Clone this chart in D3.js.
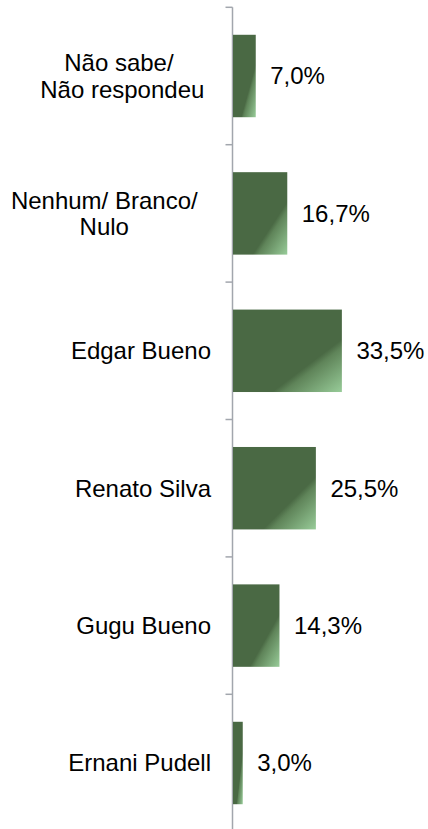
<!DOCTYPE html>
<html>
<head>
<meta charset="utf-8">
<script src="https://cdn.jsdelivr.net/npm/d3@7"></script>
<style>
  body { margin: 0; background: #fff; }
  text { font-family: "Liberation Sans", Arial, sans-serif; fill: #000; }
</style>
</head>
<body>
<svg id="chart" width="428" height="829"></svg>
<script>
// chart data (trailing no-break spaces keep Excel's wrapped-label alignment)
const categories = [
    ["Não sabe/\u00A0\u00A0", "Não respondeu\u00A0"],
    ["Nenhum/ Branco/\u00A0\u00A0", "Nulo\u00A0\u00A0"],
    ["Edgar Bueno"],
    ["Renato Silva"],
    ["Gugu Bueno"],
    ["Ernani Pudell"]
];
const values = [7.0, 16.7, 33.5, 25.5, 14.3, 3.0];
const valueLabels = ["7,0%", "16,7%", "33,5%", "25,5%", "14,3%", "3,0%"];

const AXIS_X = 232.5;
const FONT_SIZE = 24;
const LINE_H = 26.5;
const axis_color = '#a2a6ad';

const svg = d3.select("#chart");

// Gradient fill for bars
const grad = svg.append("defs").append("linearGradient")
    .attr("id", "barGrad")
    .attr("x1", 0).attr("y1", 0)
    .attr("x2", 1).attr("y2", 1);
grad.append("stop").attr("offset", 0).attr("stop-color", "#4a6944");
grad.append("stop").attr("offset", 0.68).attr("stop-color", "#4a6944");
grad.append("stop").attr("offset", 0.73).attr("stop-color", "#5f8459");
grad.append("stop").attr("offset", 1).attr("stop-color", "#98cc99");

const idx = d3.range(values.length);

const y = d3.scaleBand()
    .domain(idx)
    .range([7.3, 7.3 + 137.4 * values.length])
    .paddingInner(0.4)
    .paddingOuter(0.2);

const x = d3.scaleLinear()
    .domain([0, 40])
    .range([AXIS_X, AXIS_X + 130]);

// Category axis on the left (ticks between bands)
const axisG = svg.append("g").attr("class", "axis");
axisG.append("line")
    .attr("x1", AXIS_X).attr("x2", AXIS_X)
    .attr("y1", y.range()[0]).attr("y2", y.range()[1])
    .attr("stroke", axis_color)
    .attr("stroke-width", 1.5);

const boundaries = d3.range(values.length + 1).map(i => y.range()[0] + i * (y.range()[1] - y.range()[0]) / values.length);
axisG.selectAll(".tick")
    .data(boundaries)
    .enter()
    .append("line")
    .attr("class", "tick")
    .attr("x1", AXIS_X - 7).attr("x2", AXIS_X)
    .attr("y1", d => d).attr("y2", d => d)
    .attr("stroke", axis_color)
    .attr("stroke-width", 1.5);

// Bars
svg.selectAll(".bar")
    .data(idx)
    .enter()
    .append("rect")
    .attr("class", "bar")
    .attr("x", x(0) + 0.5)
    .attr("y", i => y(i))
    .attr("width", i => x(values[i]) - x(0))
    .attr("height", y.bandwidth())
    .attr("fill", "url(#barGrad)");

// Value labels
svg.selectAll(".value")
    .data(idx)
    .enter()
    .append("text")
    .attr("class", "value")
    .attr("x", i => x(values[i]) + 15)
    .attr("y", i => y(i) + y.bandwidth() / 2)
    .attr("dy", "0.35em")
    .style("font-size", FONT_SIZE + "px")
    .text(i => valueLabels[i]);

// Category labels, lines centred within a right-aligned block
const LABEL_RIGHT = 211;
svg.selectAll(".cat")
    .data(idx)
    .enter()
    .append("text")
    .attr("class", "cat")
    .style("font-size", FONT_SIZE + "px")
    .each(function(i) {
        const t = d3.select(this);
        const lines = categories[i];
        const cy = y(i) + y.bandwidth() / 2;
        const top = cy - (lines.length - 1) * LINE_H / 2;
        lines.forEach((ln, k) => {
            t.append("tspan")
                .attr("y", top + k * LINE_H)
                .attr("dy", "0.35em")
                .text(ln);
        });
        const maxW = d3.max(t.selectAll("tspan").nodes(), n => n.getComputedTextLength());
        t.attr("text-anchor", "middle");
        t.selectAll("tspan").attr("x", LABEL_RIGHT - maxW / 2);
    });
</script>
</body>
</html>
